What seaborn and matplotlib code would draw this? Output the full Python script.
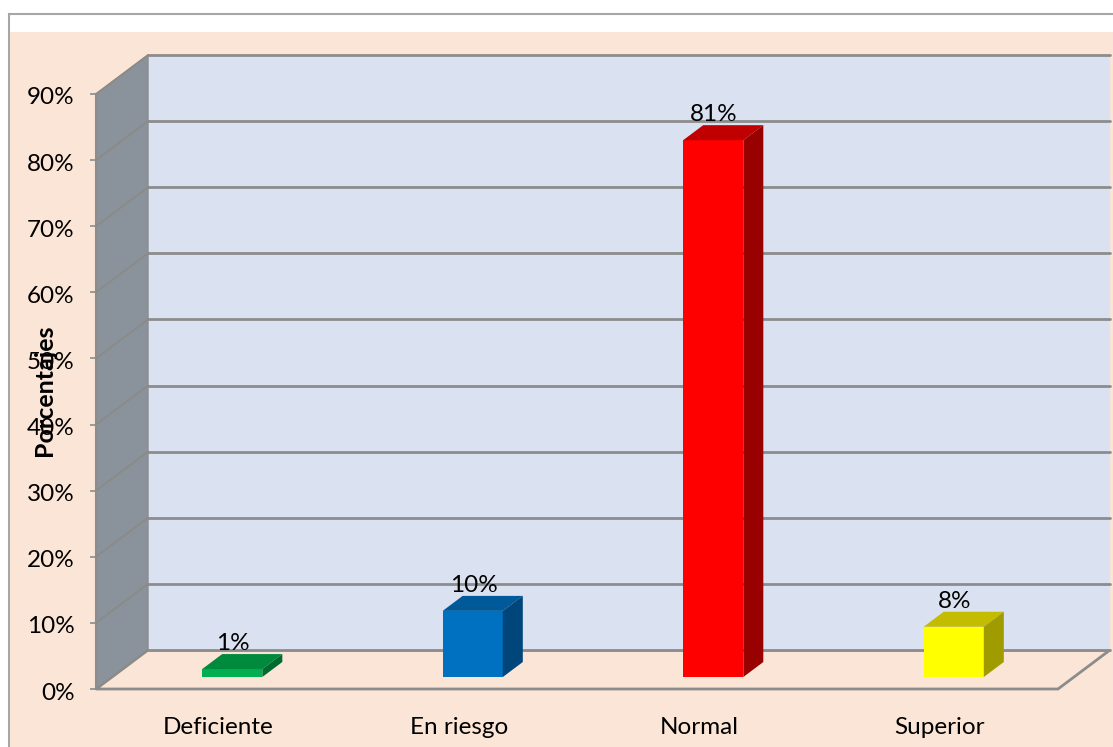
import matplotlib
matplotlib.use("Agg")
import matplotlib.pyplot as plt
import pandas as pd
import seaborn as sns
from matplotlib.patches import Polygon, Rectangle
from matplotlib.transforms import Affine2D

categories = ["Deficiente", "En riesgo", "Normal", "Superior"]
values = [1.2, 10, 81.2, 7.6]
labels = ["1%", "10%", "81%", "8%"]
y_ticks = [0, 10, 20, 30, 40, 50, 60, 70, 80, 90]
front_colors = ["#00B050", "#0070C0", "#FF0000", "#FFFF00"]
top_colors = ["#008A3E", "#005A9A", "#C00000", "#C4BC00"]
side_colors = ["#006A30", "#00467A", "#990000", "#A09C00"]

W, H = 1113, 747
sns.set_theme(style="white")
plt.rcParams["font.family"] = ["Lato", "DejaVu Sans"]

fig = plt.figure(figsize=(W / 100, H / 100), dpi=100, facecolor="white")

# page frame and peach chart area, in pixels
fig.add_artist(Rectangle((9, -5), W, H - 14 + 5, transform=None, fc="white", ec="#A6A6A6", lw=1.5, zorder=-2))
fig.add_artist(Rectangle((10, -5), W, H - 32 + 5, transform=None, fc="#FBE5D6", ec="none", zorder=-1))

# front plane of the plot box
left, right, bottom, top = 96, 1058, H - 689, H - 94
ax = fig.add_axes([left / W, bottom / H, (right - left) / W, (top - bottom) / H])
ax.patch.set_visible(False)

df = pd.DataFrame({"categoria": categories, "valor": values})
sns.barplot(data=df, x="categoria", y="valor", hue="categoria", palette=front_colors,
            order=categories, hue_order=categories, width=0.25, saturation=1,
            legend=False, dodge=False, linewidth=0, ax=ax, zorder=5)
ax.set_xlim(-0.5, 3.5)
ax.set_ylim(0, 90)

# pixel sizes converted to data units
px_x = 4 / (right - left)
px_y = 90 / (top - bottom)
dx, dy = 52 * px_x, 39 * px_y
x0, x1 = -0.5, 3.5
line_col = "#8C8C8C"

# bars first, the list is extended by the faces below
bars = list(ax.patches[:4])

# walls and floor
ax.add_patch(Polygon([(x0, 0), (x0 + dx, dy), (x1 + dx, dy), (x1, 0)], closed=True,
                     fc="#FBE5D6", ec=line_col, lw=2, clip_on=False, zorder=1))
ax.add_patch(Rectangle((x0 + dx, dy), x1 - x0, 90, fc="#DAE1F1", ec="none", clip_on=False, zorder=1))
ax.add_patch(Polygon([(x0, 0), (x0 + dx, dy), (x0 + dx, 90 + dy), (x0, 90)], closed=True,
                     fc="#8A929C", ec="#8C8C8C", lw=1, clip_on=False, zorder=2))

for t in y_ticks:
    ax.plot([x0 + dx, x1 + dx], [t + dy, t + dy], color=line_col, lw=2, clip_on=False, zorder=3)
    ax.plot([x0, x0 + dx], [t, t + dy], color="#8B8A84", lw=1.2, clip_on=False, zorder=3)

# move the bars off the front plane and add their 3d faces
shift_x, shift_y = 16 * px_x, 12 * px_y
depth_x, depth_y = 20 * px_x, 15 * px_y
for bar, lab, c_top, c_side in zip(bars, labels, top_colors, side_colors):
    bar.set_x(bar.get_x() + shift_x)
    bar.set_y(shift_y)
    bar.set_clip_on(False)
    xa, xb = bar.get_x(), bar.get_x() + bar.get_width()
    ya, yb = shift_y, shift_y + bar.get_height()
    ax.add_patch(Polygon([(xa, yb), (xa + depth_x, yb + depth_y), (xb + depth_x, yb + depth_y), (xb, yb)],
                         closed=True, fc=c_top, ec="none", clip_on=False, zorder=5))
    ax.add_patch(Polygon([(xb, ya), (xb + depth_x, ya + depth_y), (xb + depth_x, yb + depth_y), (xb, yb)],
                         closed=True, fc=c_side, ec="none", clip_on=False, zorder=5))
    ax.annotate(lab, xy=((xa + xb) / 2, yb), xytext=(0.5, 18.5), textcoords="offset points",
                ha="center", va="center", fontsize=17.5, color="black", zorder=6, annotation_clip=False)

# axes
sns.despine(ax=ax, top=True, right=True, bottom=True)
ax.spines["left"].set_color(line_col)
ax.spines["left"].set_linewidth(1.5)
ax.set_yticks(y_ticks)
ax.set_yticklabels([f"{t}%" for t in y_ticks])
ax.tick_params(axis="y", left=True, length=4.5, width=1.2, color=line_col, labelsize=17.5, pad=11, labelcolor="black")
ax.tick_params(axis="x", bottom=False, labelsize=17.5, pad=14, labelcolor="black")
ax.set_xlabel("")
ax.set_ylabel("")
for tl in ax.get_yticklabels():
    tl.set_transform(tl.get_transform() + Affine2D().translate(0, -2))
for tl in ax.get_xticklabels():
    tl.set_transform(tl.get_transform() + Affine2D().translate(2, 0))
fig.text(45 / W, 1 - 390 / H, "Porcentajes", rotation=90, ha="center", va="center",
         fontsize=18, fontweight="bold", color="black")

fig.savefig("out.png", dpi=100)
